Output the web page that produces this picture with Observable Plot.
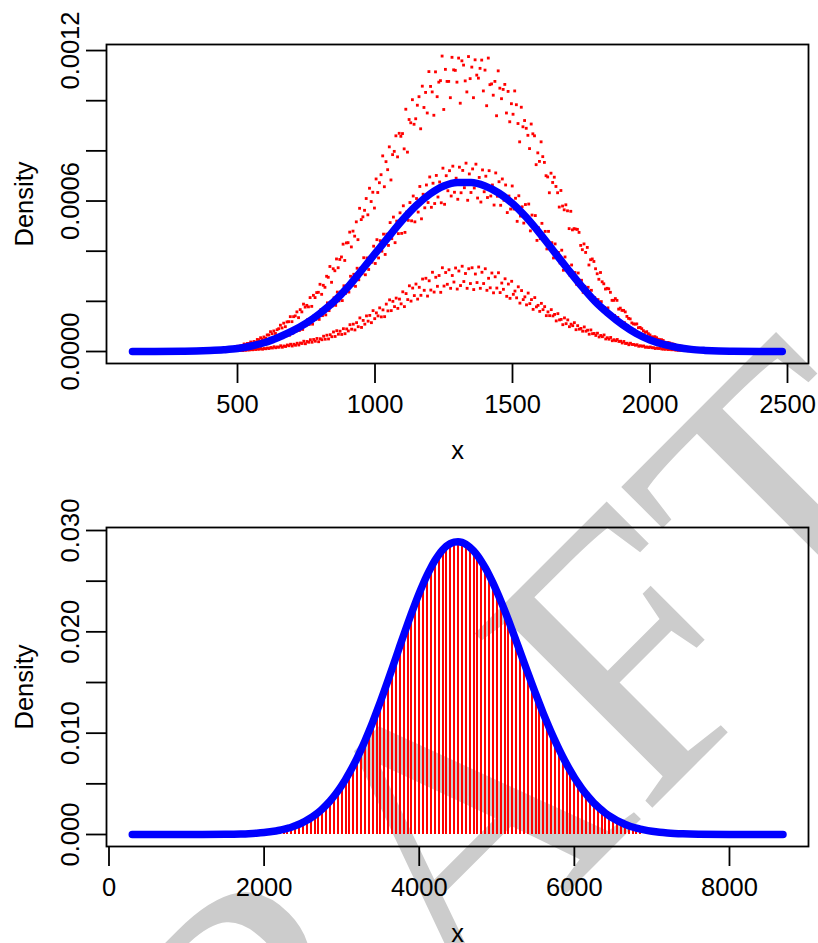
<!DOCTYPE html>
<html><head><meta charset="utf-8">
<script src="https://cdn.jsdelivr.net/npm/d3@7"></script>
<script src="https://cdn.jsdelivr.net/npm/@observablehq/plot@0.6"></script>
<style>
html,body{margin:0;padding:0;background:#fff;}
#wrap{position:relative;width:818px;height:943px;overflow:hidden;}
#wm{position:absolute;left:0;top:0;z-index:0;}
#charts{position:relative;z-index:1;}
#charts svg{display:block;background:transparent;}
</style></head><body>
<div id="wrap">
<svg id="wm" width="818" height="943"><text transform="translate(516,944) rotate(-45)" text-anchor="middle" font-family="Liberation Serif, 'Times New Roman', serif" font-size="380" fill="#cccccc">DRAFT</text></svg>
<div id="charts"></div>
</div>
<script>
// ---------- TOP PANEL DATA ----------
const topXTicks = [500, 1000, 1500, 2000, 2500];
const topXLabels = ["500", "1000", "1500", "2000", "2500"];
const topYTicks = [0, 0.0002, 0.0004, 0.0006, 0.0008, 0.0010, 0.0012];
const topYLabelAt = [0, 0.0006, 0.0012];
const topYLabels = ["0.0000", "0.0006", "0.0012"];

// blue density curve (values in 1e-6)
const topCurveX = [118,200,300,350,400,450,500,550,600,650,700,750,800,850,900,950,1000,1050,1100,1150,1200,1250,1300,1350,1400,1450,1500,1550,1600,1650,1700,1750,1800,1850,1900,1950,2000,2050,2100,2150,2200,2250,2300,2400,2481];
const topCurveY = [0,0.1,1,2,4,7,12,22,36,57,82,113,152,198,255,322,390,458,524,582,628,660,674,674,660,632,590,535,470,400,330,262,200,150,107,72,46,28,16,8.5,4.5,2,1,0.2,0];

// red points: sample positions and six traces (values in 1e-6)
const scatterX = [500,512,524,536,548,560,572,584,596,608,620,632,644,656,668,680,692,704,716,728,740,752,764,776,788,800,812,824,836,848,860,872,884,896,908,920,932,944,956,968,980,992,1004,1016,1028,1040,1052,1064,1076,1088,1100,1112,1124,1136,1148,1160,1172,1184,1196,1208,1220,1232,1244,1256,1268,1280,1292,1304,1316,1328,1340,1352,1364,1376,1388,1400,1412,1424,1436,1448,1460,1472,1484,1496,1508,1520,1532,1544,1556,1568,1580,1592,1604,1616,1628,1640,1652,1664,1676,1688,1700,1712,1724,1736,1748,1760,1772,1784,1796,1808,1820,1832,1844,1856,1868,1880,1892,1904,1916,1928,1940,1952,1964,1976,1988,2000,2012,2024,2036,2048,2060,2072,2084,2096,2108,2120,2132,2144,2156,2168,2180,2192,2204,2216,2228,2240,2252,2264,2276,2288,2300];
const traceT1 = [21,23,30,32,38,40,48,55,58,66,79,82,87,105,113,118,139,139,158,167,189,184,215,224,235,268,264,300,339,330,369,367,428,433,476,480,517,571,537,610,651,635,688,673,780,757,816,785,860,870,869,966,925,1004,928,1016,1058,1033,1116,1035,1115,1074,1178,1125,1077,1173,1121,1170,1159,1079,1176,1134,1163,1090,1162,1122,1170,1067,1077,1119,1008,1065,1037,988,1039,909,974,921,862,907,860,792,836,754,696,711,695,633,642,565,561,559,490,487,423,429,415,366,359,310,315,270,252,236,204,204,173,164,140,130,110,110,96,83,79,66,58,55,47,44,35,34,30,24,22,18,16,14,12,10,9,8,6,5,4,4,3,2,2,2,1];
const traceT2 = [20,21,27,32,34,37,46,49,53,66,71,72,91,94,99,119,119,142,135,158,177,178,180,215,236,228,256,296,276,322,334,377,363,434,417,460,446,526,563,545,598,572,634,705,657,725,684,798,776,858,808,795,912,906,982,888,973,951,1057,942,1016,1080,965,1077,1012,1123,1074,990,1142,1035,1088,1012,1102,1129,1039,980,1064,1022,940,1050,1045,951,916,946,984,836,896,890,809,868,745,758,777,701,633,674,658,576,580,585,490,485,488,475,406,395,345,369,330,288,278,249,250,204,211,169,164,158,132,114,109,95,91,76,71,58,59,49,47,37,36,30,28,22,21,17,15,12,11,9,8,7,6,5,4,3,3,2,2,2,1];
const traceM1 = [13,15,19,20,23,27,31,32,38,42,46,54,59,61,72,80,81,90,100,102,115,127,127,144,149,167,168,194,197,214,237,238,262,264,300,308,332,332,374,373,378,420,446,442,468,468,514,536,520,553,581,556,594,620,610,658,627,664,696,671,702,676,731,701,721,739,691,735,722,751,708,728,747,694,724,699,721,664,712,677,688,664,620,660,611,621,577,586,588,544,542,493,511,479,479,434,429,395,404,377,339,345,315,313,284,260,256,244,215,207,199,176,174,149,144,136,118,115,102,90,86,75,70,60,57,49,43,42,35,30,29,24,22,18,16,14,12,10,9,7,6,5,5,4,3,3,2,2,1,1,1];
const traceM2 = [11,14,16,19,19,23,27,28,34,36,39,47,52,55,63,65,73,81,84,88,103,108,109,128,128,143,146,163,182,184,202,203,232,237,263,260,286,310,306,327,356,351,373,400,387,423,450,434,470,471,475,523,521,517,556,529,573,594,575,590,616,593,587,641,620,635,607,633,653,603,634,652,612,596,637,614,620,584,619,583,603,554,568,568,519,540,512,524,481,491,443,450,449,409,409,373,380,353,324,335,304,303,268,266,236,240,219,201,199,174,170,150,151,134,129,113,107,94,92,80,71,69,59,55,46,44,39,35,30,27,24,22,18,17,14,12,10,9,7,7,6,5,4,3,3,2,2,1,1,1,1];
const traceB1 = [4,5,6,7,8,9,10,12,12,14,16,19,18,23,22,26,29,29,33,34,41,40,47,48,52,51,61,65,67,78,83,81,91,90,107,109,115,134,124,142,144,163,154,174,166,189,206,200,213,209,238,231,262,253,269,256,289,292,282,316,296,303,334,315,326,303,333,321,340,311,330,334,309,337,316,330,292,313,298,314,273,290,269,280,241,258,243,218,233,207,215,184,192,179,158,167,148,151,128,134,126,109,115,103,92,98,85,86,72,73,64,66,55,56,47,48,41,40,33,33,28,27,23,22,18,18,15,14,13,10,10,9,8,6,5,5,4,4,3,3,2,2,2,1,1,1,1,1,1,0,0];
const traceB2 = [4,4,5,6,7,8,9,9,11,12,14,15,17,17,20,23,22,25,26,32,31,37,37,41,39,47,49,50,59,60,69,68,71,82,89,86,99,96,109,121,115,131,142,138,139,162,163,179,172,190,179,207,201,223,209,224,244,221,245,237,260,236,261,268,252,277,249,263,279,252,271,247,275,252,271,244,254,234,253,235,248,220,212,228,214,193,207,186,191,168,178,160,167,143,143,142,122,126,107,111,99,103,87,89,81,81,69,71,64,58,59,50,49,43,43,40,34,32,27,28,25,21,21,17,16,15,12,12,10,9,8,7,6,5,5,4,3,3,2,2,2,2,1,1,1,1,1,0,0,0,0];
const traceOffset = [0, 6, 3, 9, 1, 7];

// ---------- BOTTOM PANEL DATA ----------
const botXTicks = [0, 2000, 4000, 6000, 8000];
const botXLabels = ["0", "2000", "4000", "6000", "8000"];
const botYTicks = [0, 0.005, 0.010, 0.015, 0.020, 0.025, 0.030];
const botYLabelAt = [0, 0.010, 0.020, 0.030];
const botYLabels = ["0.000", "0.010", "0.020", "0.030"];

// red vertical lines (values in 1e-3)
const hX = [2100,2150,2200,2250,2300,2350,2400,2450,2500,2550,2600,2650,2700,2750,2800,2850,2900,2950,3000,3050,3100,3150,3200,3250,3300,3350,3400,3450,3500,3550,3600,3650,3700,3750,3800,3850,3900,3950,4000,4050,4100,4150,4200,4250,4300,4350,4400,4450,4500,4550,4600,4650,4700,4750,4800,4850,4900,4950,5000,5050,5100,5150,5200,5250,5300,5350,5400,5450,5500,5550,5600,5650,5700,5750,5800,5850,5900,5950,6000,6050,6100,6150,6200,6250,6300,6350,6400,6450,6500,6550,6600,6650,6700,6750,6800,6850];
const hY = [0.29,0.35,0.42,0.51,0.61,0.72,0.86,1.01,1.19,1.40,1.63,1.89,2.19,2.52,2.90,3.31,3.77,4.28,4.84,5.44,6.10,6.81,7.57,8.38,9.24,10.15,11.10,12.10,13.13,14.19,15.27,16.37,17.48,18.60,19.70,20.78,21.84,22.85,23.82,24.73,25.57,26.33,27.01,27.59,28.07,28.45,28.71,28.86,28.90,28.83,28.65,28.37,28.00,27.53,26.97,26.33,25.62,24.83,23.98,23.08,22.13,21.15,20.13,19.10,18.05,17.00,15.96,14.92,13.91,12.91,11.94,11.01,10.11,9.26,8.44,7.67,6.95,6.27,5.63,5.05,4.50,4.01,3.55,3.13,2.76,2.42,2.11,1.84,1.60,1.38,1.19,1.02,0.87,0.74,0.63,0.53];
// blue curve tails (values in 1e-3)
const tailLeftX = [300,800,1200,1500,1700,1800,1900,2000,2050];
const tailLeftY = [0,0,0.002,0.02,0.055,0.085,0.13,0.196,0.24];
const tailRightX = [6900,7000,7100,7200,7400,7600,8000,8400,8690];
const tailRightY = [0.45,0.32,0.22,0.15,0.067,0.028,0.004,0,0];

// ---------- BUILD ----------
const FONT = "Liberation Sans, Arial, Helvetica, sans-serif";
const FS = 25.5;

const topCurve = topCurveX.map((x, i) => ({x, y: topCurveY[i] * 1e-6}));
const traces = [traceT1, traceT2, traceM1, traceM2, traceB1, traceB2];
const scatter = traces.flatMap((vals, k) => vals.map((v, i) => ({x: scatterX[i] + traceOffset[k], y: v * 1e-6})));

const rules = hX.map((x, i) => ({x, y: hY[i] * 1e-3}));
const botCurve = [
  ...tailLeftX.map((x, i) => ({x, y: tailLeftY[i] * 1e-3})),
  ...rules,
  ...tailRightX.map((x, i) => ({x, y: tailRightY[i] * 1e-3}))
];

const txt = {fontSize: FS, fontFamily: FONT, fill: "black", textAnchor: "middle", lineAnchor: "middle"};

function axesMarks(xTicks, xLabels, yTicks, yLabelAt, yLabels) {
  return [
    Plot.frame({stroke: "black", strokeWidth: 1.8}),
    Plot.axisX(xTicks, {tickSize: 20, tickFormat: () => "", strokeWidth: 1.8, label: null}),
    Plot.axisY(yTicks, {tickSize: 20, tickFormat: () => "", strokeWidth: 1.8, label: null}),
    Plot.text(xTicks, {...txt, x: d => d, text: (d, i) => xLabels[i], frameAnchor: "bottom", dy: 41}),
    Plot.text(yLabelAt, {...txt, y: d => d, text: (d, i) => yLabels[i], frameAnchor: "left", dx: -36, rotate: -90}),
    Plot.text(["Density"], {...txt, text: d => d, frameAnchor: "left", dx: -82, rotate: -90}),
    Plot.text(["x"], {...txt, text: d => d, frameAnchor: "bottom", dy: 87})
  ];
}

const topPlot = Plot.plot({
  width: 818, height: 471,
  marginLeft: 106, marginRight: 10, marginTop: 44, marginBottom: 108,
  style: {background: "transparent", fontFamily: FONT, overflow: "visible"},
  x: {domain: [23.6, 2576.4], axis: null},
  y: {domain: [-0.0000478, 0.0012241], axis: null},
  marks: [
    Plot.dot(scatter, {x: "x", y: "y", symbol: "square", r: 1.6, fill: "#ff0000"}),
    Plot.line(topCurve, {x: "x", y: "y", stroke: "blue", strokeWidth: 7.5, curve: "monotone-x"}),
    ...axesMarks(topXTicks, topXLabels, topYTicks, topYLabelAt, topYLabels)
  ]
});

const botPlot = Plot.plot({
  width: 818, height: 472,
  marginLeft: 106, marginRight: 10, marginTop: 56, marginBottom: 97,
  style: {background: "transparent", fontFamily: FONT, overflow: "visible"},
  x: {domain: [-32.2, 9018.8], axis: null},
  y: {domain: [-0.001184, 0.030297], axis: null},
  marks: [
    Plot.ruleX(rules, {x: "x", y1: 0, y2: "y", stroke: "red", strokeWidth: 2, shapeRendering: "crispEdges"}),
    Plot.line(botCurve, {x: "x", y: "y", stroke: "blue", strokeWidth: 7.5, curve: "monotone-x"}),
    ...axesMarks(botXTicks, botXLabels, botYTicks, botYLabelAt, botYLabels)
  ]
});

document.getElementById("charts").append(topPlot, botPlot);
</script>
</body></html>
